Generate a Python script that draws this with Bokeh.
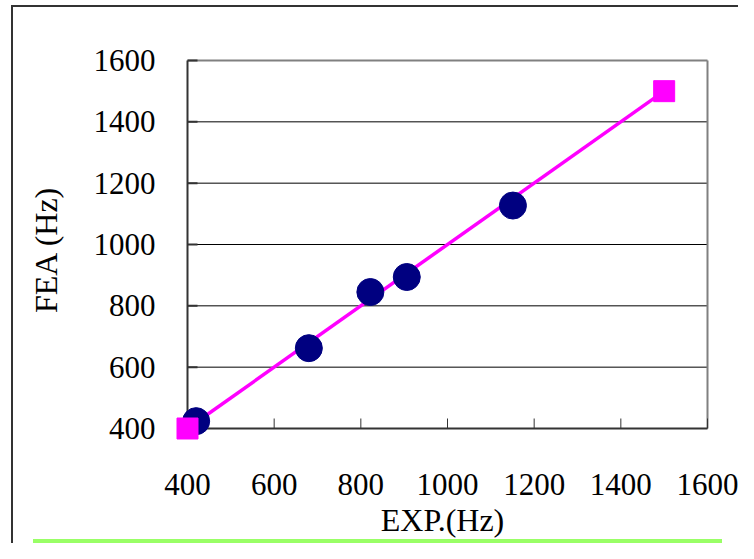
from bokeh.plotting import figure
from bokeh.models import Range1d, FixedTicker
from bokeh.embed import file_html
from bokeh.resources import INLINE

# data
exp_hz = [420, 680, 822, 906, 1151]
fea_hz = [424, 662, 845, 894, 1127]
line_x = [400, 1500]
line_y = [400, 1500]
ticks = [400, 600, 800, 1000, 1200, 1400, 1600]

FONT = "Liberation Serif"
LO, HI = ticks[0], ticks[-1]

# layout (pixels): plot box 187..707 x 58..428, frame padded so end markers are not clipped
PAD_L, PAD_B, PAD_T, PAD_R = 12, 12, 2, 2
BOX_W, BOX_H = 520, 368
ppx = BOX_W / (HI - LO)
ppy = BOX_H / (HI - LO)

p = figure(width=738, height=543, output_backend="svg", toolbar_location=None,
           x_range=Range1d(LO - PAD_L / ppx, HI + PAD_R / ppx),
           y_range=Range1d(LO - PAD_B / ppy, HI + PAD_T / ppy),
           min_border_left=175, min_border_right=29, min_border_top=58, min_border_bottom=103)

p.background_fill_color = "white"
p.border_fill_color = None
p.outline_line_color = None
p.styles = {
    "background": (
        "linear-gradient(#333333,#333333) 11px 5px / 2px 700px no-repeat, "
        "linear-gradient(#333333,#333333) 11px 5px / 900px 2px no-repeat, "
        "linear-gradient(#99FF66,#99FF66) 33px 539px / 689px 4px no-repeat, "
        "#ffffff"
    )
}

p.xgrid.visible = False
p.ygrid.visible = False

for ax in (p.xaxis[0], p.yaxis[0]):
    ax.ticker = FixedTicker(ticks=ticks)
    ax.axis_line_color = None
    ax.major_tick_line_color = None
    ax.minor_tick_line_color = None
    ax.major_label_text_font = FONT
    ax.major_label_text_font_size = "31px"
    ax.major_label_text_color = "black"
    ax.axis_label_text_font = FONT
    ax.axis_label_text_font_size = "32px"
    ax.axis_label_text_font_style = "normal"
    ax.axis_label_text_color = "black"

p.xaxis.axis_label = "EXP.(Hz)"
p.yaxis.axis_label = "FEA (Hz)"
p.xaxis.major_label_standoff = 27
p.yaxis.major_label_standoff = 14
p.xaxis.axis_label_standoff = 4
p.yaxis.axis_label_standoff = 27

inner = ticks[1:-1]
# horizontal gridlines
p.segment(x0=[LO] * len(inner), y0=inner, x1=[HI] * len(inner), y1=inner,
          line_color="black", line_width=1)
# top and right border (gray)
p.segment(x0=[LO, HI], y0=[HI, LO], x1=[HI, HI], y1=[HI, HI],
          line_color="#808080", line_width=2)
# axis lines
p.segment(x0=[LO, LO], y0=[LO, LO], x1=[HI, LO], y1=[LO, HI],
          line_color="#333333", line_width=2)
# inside tick marks, 10 px long
tk = 10
p.segment(x0=ticks[1:], y0=[LO] * (len(ticks) - 1), x1=ticks[1:], y1=[LO + tk / ppy] * (len(ticks) - 1),
          line_color="#333333", line_width=1)
p.segment(x0=[LO] * (len(ticks) - 1), y0=ticks[1:], x1=[LO + tk / ppx] * (len(ticks) - 1), y1=ticks[1:],
          line_color="#333333", line_width=2)

p.line(line_x, line_y, line_color="#FF00FF", line_width=3.5)
p.scatter(exp_hz, fea_hz, marker="circle", size=27, fill_color="#000080", line_color="#000080")
p.scatter(line_x, line_y, marker="square", size=21, fill_color="#FF00FF", line_color="#FF00FF")

open("out.html", "w").write(file_html(p, INLINE))
